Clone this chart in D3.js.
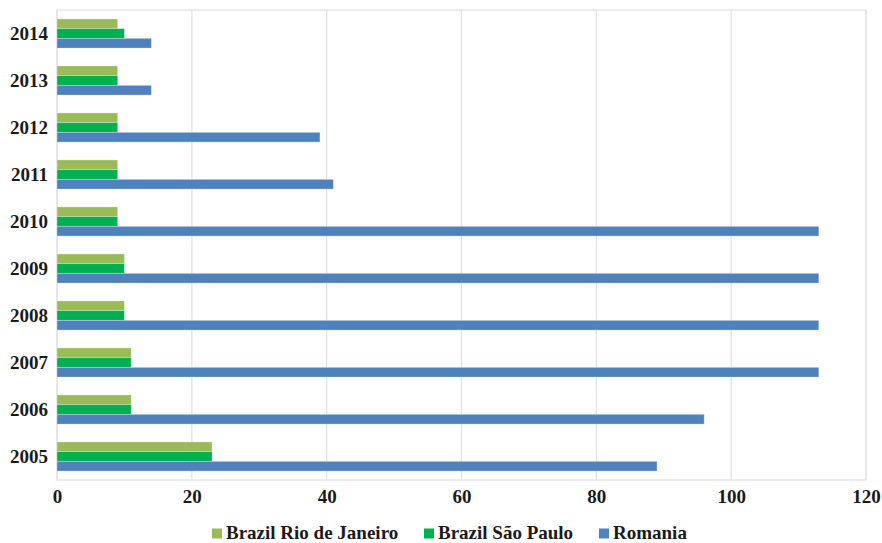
<!DOCTYPE html>
<html>
<head>
<meta charset="utf-8">
<script src="https://cdn.jsdelivr.net/npm/d3@7"></script>
<style>
  html, body { margin: 0; padding: 0; background: #fff; }
</style>
</head>
<body>
<svg id="chart" width="882" height="543"></svg>
<script>
// Years, bottom to top of the chart
const years = ["2005", "2006", "2007", "2008", "2009", "2010", "2011", "2012", "2013", "2014"];
const seriesNames = ["Brazil Rio de Janeiro", "Brazil São Paulo", "Romania"];
const rioValues      = [23, 11, 11, 10, 10, 9, 9, 9, 9, 9];
const saoPauloValues = [23, 11, 11, 10, 10, 9, 9, 9, 9, 10];
const romaniaValues  = [89, 96, 113, 113, 113, 113, 41, 39, 14, 14];
const xTicks = [0, 20, 40, 60, 80, 100, 120];
const colors = ["#9BBB59", "#00B050", "#4F81BD"];

const FONT = "'Liberation Serif', 'Times New Roman', serif";
const seriesValues = [rioValues, saoPauloValues, romaniaValues];
const rows = years.map((y, i) => ({ year: y, values: seriesValues.map(s => s[i]) }));

const svg = d3.select("#chart");
const margin = { left: 57, right: 16, top: 10, bottom: 63 };
const W = 882, H = 543;
const innerW = W - margin.left - margin.right;
const innerH = H - margin.top - margin.bottom;

const g = svg.append("g").attr("transform", `translate(${margin.left},${margin.top})`);

const x = d3.scaleLinear().domain([0, 120]).range([0, innerW]);
const y = d3.scaleBand().domain(years.slice().reverse()).range([0, innerH]).paddingInner(0.38).paddingOuter(0.19);
const ySub = d3.scaleBand().domain(d3.range(3)).range([0, y.bandwidth()]);

// Gridlines
g.append("g").selectAll("line").data(xTicks).join("line")
  .attr("x1", d => x(d)).attr("x2", d => x(d))
  .attr("y1", 0).attr("y2", innerH)
  .attr("stroke", "#e3e3e3").attr("stroke-width", 1.3);

// Plot frame
g.append("rect").attr("x", 0).attr("y", 0).attr("width", innerW).attr("height", innerH)
  .attr("fill", "none").attr("stroke", "#e3e3e3").attr("stroke-width", 1.3);

// Bars
const groups = g.append("g").selectAll("g").data(rows).join("g")
  .attr("transform", d => `translate(0,${y(d.year)})`);
groups.selectAll("rect").data(d => d.values.map((v, i) => ({ v, i }))).join("rect")
  .attr("x", x(0))
  .attr("y", d => ySub(d.i))
  .attr("width", d => x(d.v) - x(0))
  .attr("height", ySub.bandwidth())
  .attr("fill", d => colors[d.i])
  .attr("stroke", "rgba(255,255,255,0.35)")
  .attr("stroke-width", 0.8);

// Axes
const xAxis = d3.axisBottom(x).tickValues(xTicks).tickSize(0);
const xg = g.append("g").attr("transform", `translate(0,${innerH})`).call(xAxis);
xg.select(".domain").remove();
xg.selectAll("text")
  .attr("font-family", FONT).attr("font-weight", "bold").attr("fill", "#1a1a1a")
  .attr("font-size", 19).attr("dy", null).attr("y", 23);

const yAxis = d3.axisLeft(y).tickSize(0).tickPadding(9);
const yg = g.append("g").call(yAxis);
yg.select(".domain").remove();
yg.selectAll("text")
  .attr("font-family", FONT).attr("font-weight", "bold").attr("fill", "#1a1a1a")
  .attr("font-size", 19);

// Legend
const legendX = [212, 424, 599];
const legend = svg.append("g").selectAll("g").data(seriesNames).join("g")
  .attr("transform", (d, i) => `translate(${legendX[i]},528.5)`);
legend.append("rect").attr("x", 0).attr("y", 0).attr("width", 10).attr("height", 10)
  .attr("fill", (d, i) => colors[i]);
legend.append("text").attr("x", 14).attr("y", 10)
  .attr("font-family", FONT).attr("font-weight", "bold").attr("fill", "#1a1a1a")
  .attr("font-size", 19).text(d => d);
</script>
</body>
</html>
